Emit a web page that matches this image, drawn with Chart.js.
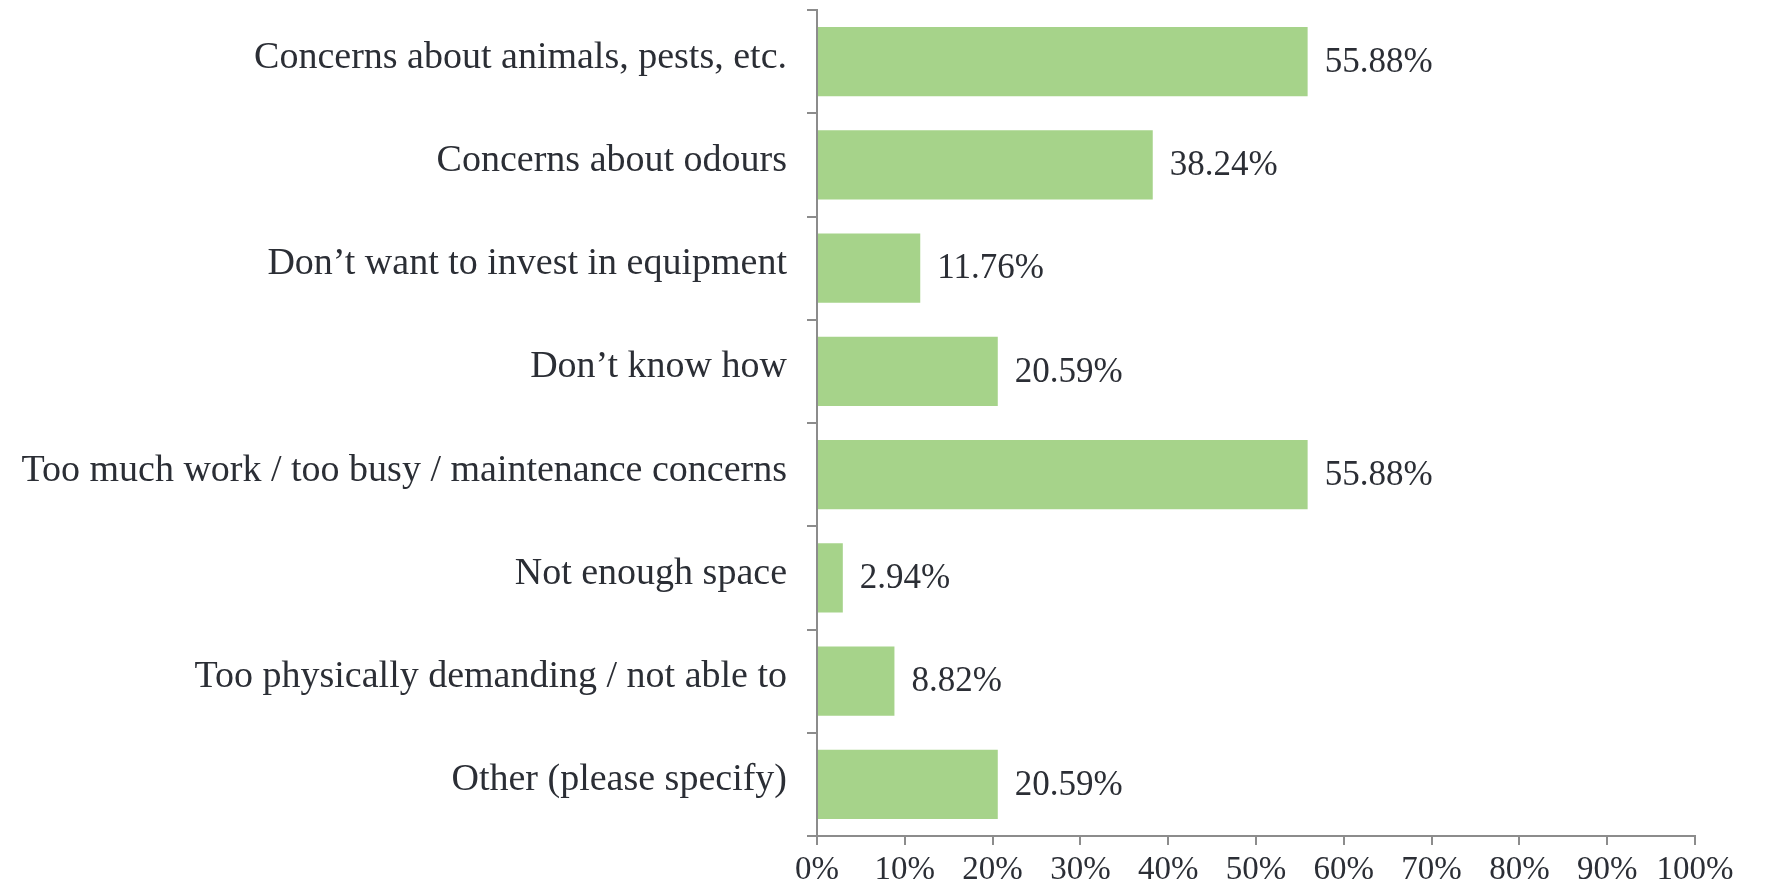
<!DOCTYPE html>
<html>
<head>
<meta charset="utf-8">
<script src="https://cdn.jsdelivr.net/npm/chart.js@4"></script>
<style>
  html, body { margin: 0; padding: 0; background: #fff; }
  #wrap { width: 1765px; height: 886px; }
</style>
</head>
<body>
<div id="wrap"><canvas id="chart" width="1765" height="886"></canvas></div>
<script>
// data
const categories = [
    "Concerns about animals, pests, etc.",
    "Concerns about odours",
    "Don\u2019t want to invest in equipment",
    "Don\u2019t know how",
    "Too much work / too busy / maintenance concerns",
    "Not enough space",
    "Too physically demanding / not able to",
    "Other (please specify)"
];
const percents = [55.88, 38.24, 11.76, 20.59, 55.88, 2.94, 8.82, 20.59];
const xTicks = [0, 10, 20, 30, 40, 50, 60, 70, 80, 90, 100];

const textColor = '#2b2e35';
const axisColor = '#8c8c8c';
const serif = '"Liberation Serif", "Times New Roman", serif';

// draws the value at the end of each bar
const valueLabels = {
    id: 'valueLabels',
    afterDatasetsDraw(chart) {
        let ctx = chart.ctx;
        let meta = chart.getDatasetMeta(0);
        ctx.save();
        ctx.font = '35px ' + serif;
        ctx.fillStyle = textColor;
        ctx.textAlign = 'left';
        ctx.textBaseline = 'middle';
        meta.data.forEach(function (bar, i) {
            ctx.fillText(percents[i].toFixed(2) + '%', bar.x + 17, bar.y + 1);
        });
        ctx.restore();
    }
};

let ctx = document.getElementById('chart').getContext('2d');
new Chart(ctx, {
    type: 'bar',
    data: {
        labels: categories,
        datasets: [{
            data: percents,
            backgroundColor: '#a6d38a',
            borderWidth: 0,
            categoryPercentage: 1,
            barPercentage: 0.67
        }]
    },
    options: {
        indexAxis: 'y',
        responsive: false,
        animation: false,
        layout: { padding: { top: 10, right: 70, bottom: 0, left: 0 } },
        plugins: {
            legend: { display: false },
            tooltip: { enabled: false }
        },
        scales: {
            x: {
                min: 0,
                max: 100,
                afterBuildTicks(scale) {
                    scale.ticks = xTicks.map(v => ({ value: v }));
                },
                afterFit(scale) { scale.height = 50; },
                grid: {
                    drawOnChartArea: false,
                    drawTicks: true,
                    tickLength: 9,
                    color: axisColor,
                    lineWidth: 2
                },
                border: { color: axisColor, width: 2 },
                ticks: {
                    padding: 6,
                    color: textColor,
                    font: { family: serif, size: 33 },
                    maxRotation: 0,
                    callback: v => v + '%'
                }
            },
            y: {
                afterFit(scale) {
                    scale.width = 817;
                    scale.paddingTop = 0;
                    scale.paddingBottom = 0;
                },
                grid: {
                    drawOnChartArea: false,
                    drawTicks: true,
                    tickLength: 10,
                    color: axisColor,
                    lineWidth: 2,
                    offset: true
                },
                border: { color: axisColor, width: 2 },
                ticks: {
                    padding: 20,
                    labelOffset: -4,
                    color: textColor,
                    font: { family: serif, size: 38 }
                }
            }
        }
    },
    plugins: [valueLabels]
});
</script>
</body>
</html>
